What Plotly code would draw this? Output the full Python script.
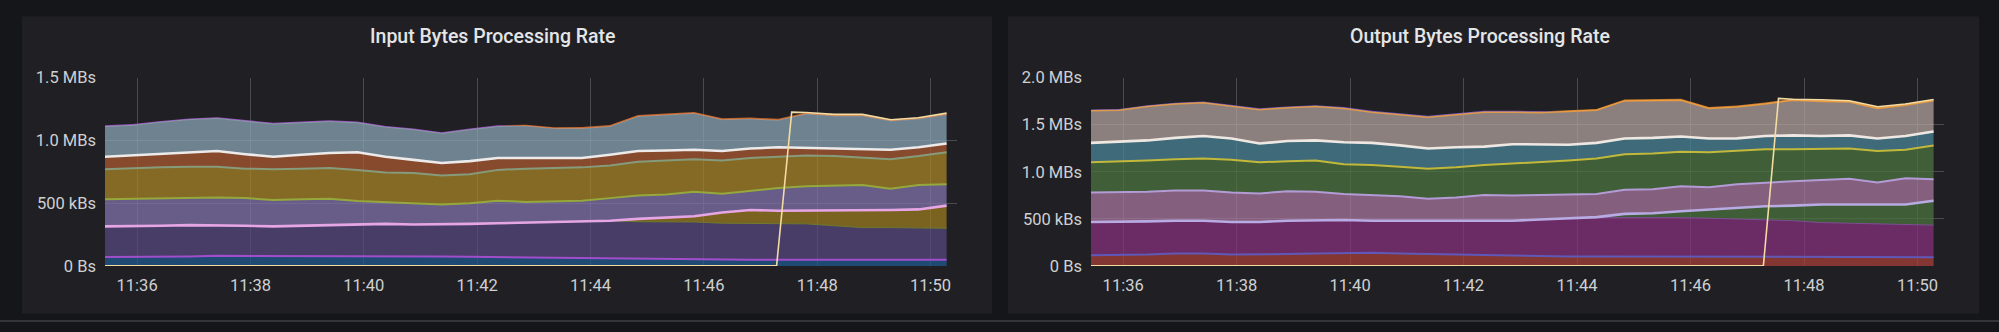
import pandas as pd
import plotly.graph_objects as go
from plotly.subplots import make_subplots

# ---------------------------------------------------------------------------
# Sample times (one scrape roughly every 30 s) and axis window
# ---------------------------------------------------------------------------
times = pd.date_range("2024-05-14 11:35:26", "2024-05-14 11:50:17", periods=31)
x_range = ["2024-05-14 11:35:26", "2024-05-14 11:50:28"]

# ---------------------------------------------------------------------------
# Input bytes processing rate (MB/s per stacked series, bottom to top)
# ---------------------------------------------------------------------------
in_names = ["src-0", "map-1", "map-4", "map-2", "map-3", "sink-0", "sink-1", "agg-0", "agg-1"]
in_src0 = [.07, .07, .07, .075, .08, .08, .08, .08, .08, .08, .08, .078, .075, .072, .07, .068,
           .065, .06, .058, .055, .052, .05, .05, .05, .05, .05, .05, .05, .05, .05, .05]
in_map1 = [.245, .245, .25, .25, .245, .24, .235, .24, .245, .25, .255, .252, .255, .263, .27, .277,
           .285, .295, .302, .297, .298, .30, .29, .29, .29, .285, .27, .255, .255, .255, .25]
in_map4 = [0, 0, 0, 0, 0, 0, 0, 0, 0, 0, 0, 0, 0, 0, 0, 0,
           0, 0, 0, .023, .035, .045, .085, .105, .10, .105, .125, .14, .14, .145, .18]
in_map2 = [.217, .22, .22, .22, .22, .22, .21, .212, .21, .188, .173, .17, .16, .165, .18, .165,
           .165, .165, .18, .185, .183, .195, .15, .155, .18, .195, .195, .20, .17, .195, .17]
in_map3 = [.238, .245, .245, .245, .245, .235, .245, .243, .245, .247, .237, .24, .23, .23, .245, .265,
           .265, .265, .26, .27, .272, .26, .265, .26, .25, .245, .235, .215, .235, .23, .255]
in_sink0 = [.10, .10, .11, .115, .125, .115, .10, .11, .12, .14, .125, .105, .10, .105, .095, .085,
            .08, .075, .085, .085, .08, .075, .075, .075, .075, .06, .06, .075, .075, .07, .07]
in_sink1 = [.24, .24, .25, .26, .26, .26, .26, .255, .25, .235, .235, .24, .235, .25, .25, .255,
            .235, .235, .225, .275, .28, .29, .25, .235, .215, .27, .26, .26, .23, .225, .23]
in_agg0 = [.01, .01, .01, .01, .01, .01, .01, .01, .01, .01, .01, .01, .01, .01, .01, 0,
           0, 0, 0, 0, 0, 0, 0, 0, 0, 0, 0, 0, 0, 0, 0]
in_agg1 = [0, 0, 0, 0, 0, 0, 0, 0, 0, 0, 0, 0, 0, 0, 0, .01,
           .01, .012, .012, .012, .012, .012, .012, .012, .012, .012, .012, .012, .012, .012, .012]
in_series = [in_src0, in_map1, in_map4, in_map2, in_map3, in_sink0, in_sink1, in_agg0, in_agg1]

# Restarted job: reports nothing, then its first sample
in_restart_times = ["2024-05-14 11:35:26", "2024-05-14 11:47:17", "2024-05-14 11:47:33",
                    "2024-05-14 11:47:48", "2024-05-14 11:48:18", "2024-05-14 11:48:48",
                    "2024-05-14 11:49:18", "2024-05-14 11:49:47", "2024-05-14 11:50:17"]
in_restart = [0, 0, 1.225, 1.222, 1.207, 1.207, 1.165, 1.18, 1.217]

# ---------------------------------------------------------------------------
# Output bytes processing rate (MB/s per stacked series, bottom to top)
# ---------------------------------------------------------------------------
out_names = ["src-0", "map-1", "map-4", "map-2", "map-3", "sink-0", "sink-1", "agg-0", "agg-1"]
out_src0 = [.113, .113, .12, .133, .133, .12, .12, .127, .133, .14, .14, .133, .127, .12, .12, .113,
            .107, .10, .10, .10, .093, .093, .093, .093, .093, .093, .093, .093, .093, .093, .093]
out_map1 = [.354, .354, .353, .347, .347, .347, .347, .353, .354, .347, .34, .347, .353, .36, .36, .367,
            .386, .407, .413, .415, .42, .42, .414, .407, .40, .387, .367, .36, .354, .347, .34]
out_map4 = [0, 0, 0, 0, 0, 0, 0, 0, 0, 0, 0, 0, 0, 0, 0, 0,
            0, 0, .005, .038, .047, .067, .093, .12, .14, .16, .193, .20, .206, .213, .26]
out_map2 = [.313, .313, .314, .32, .32, .313, .303, .313, .30, .278, .273, .26, .233, .247, .273, .267,
            .26, .253, .247, .257, .255, .265, .235, .247, .254, .26, .26, .274, .234, .277, .227]
out_map3 = [.32, .327, .333, .333, .34, .347, .33, .32, .333, .315, .32, .313, .32, .32, .32, .34,
            .347, .36, .375, .377, .378, .368, .372, .353, .353, .34, .334, .32, .333, .303, .36]
out_sink0 = [.207, .213, .213, .227, .24, .226, .20, .214, .213, .233, .234, .227, .214, .213, .194, .206,
             .187, .167, .167, .166, .167, .162, .146, .135, .14, .147, .133, .14, .133, .147, .147]
out_sink1 = [.34, .333, .36, .36, .353, .347, .36, .353, .36, .36, .326, .327, .333, .347, .366, .34,
             .34, .353, .346, .40, .393, .385, .319, .332, .34, .373, .367, .353, .32, .327, .326]
out_agg0 = [.014, .014, .014, .014, .014, .014, .014, .014, .014, .014, .014, .014, .014, .014, .014, .014,
            .014, 0, 0, 0, 0, 0, 0, 0, 0, 0, 0, 0, 0, 0, 0]
out_agg1 = [0, 0, 0, 0, 0, 0, 0, 0, 0, 0, 0, 0, 0, 0, 0, 0,
            0, .014, .014, .016, .016, .016, .016, .016, .016, .016, .016, .016, .016, .016, .016]
out_series = [out_src0, out_map1, out_map4, out_map2, out_map3, out_sink0, out_sink1, out_agg0, out_agg1]

out_restart_times = in_restart_times
out_restart = [0, 0, 1.78, 1.77, 1.765, 1.755, 1.69, 1.72, 1.768]

# ---------------------------------------------------------------------------
# Axis ticks
# ---------------------------------------------------------------------------
in_tickvals = [0, 0.5, 1.0, 1.5]
in_ticktext = ["0 Bs", "500 kBs", "1.0 MBs", "1.5 MBs"]
out_tickvals = [0, 0.5, 1.0, 1.5, 2.0]
out_ticktext = ["0 Bs", "500 kBs", "1.0 MBs", "1.5 MBs", "2.0 MBs"]

# ---------------------------------------------------------------------------
# Styling
# ---------------------------------------------------------------------------
PAGE = "#151619"
PANEL = "#202024"
GRID = "#4a4b50"
TEXT = "#cfd0d2"
TITLE = "#e4e5e7"
RESTART = "#f3dba2"
FILL_ALPHA = 0.72

in_fill = ["#1e4a74", "#483d66", "#7a6321", "#685c87", "#856a25", "#864a2c", "#6e828f", "#9c50c8", "#c8642c"]
in_line = ["#a24dcc", "#6e7a30", "#e6a6e6", "#94a83c", "#869b7b", "#eceaea", "#8a9ba7", "#9c50c8", "#d06a2e"]
in_width = [2, 1, 2.6, 2, 2, 2.6, 1, 0, 0]

out_fill = ["#833632", "#6b2c66", "#3f5d36", "#84607e", "#405e38", "#3e6a7a", "#8b807e", "#7456c8", "#c87a30"]
out_line = ["#6058b8", "#7d4f93", "#b8aae2", "#b39bd6", "#c2b83a", "#efe8e2", "#dd9a4a", "#7456c8", "#d08a34"]
out_width = [2, 1, 2.6, 2, 2, 2.6, 1.5, 0, 0]


def veil(hex_color, alpha=FILL_ALPHA, under=PANEL):
    """Translucent fill that composites to hex_color over the panel colour."""
    t = [int(hex_color[i:i + 2], 16) for i in (1, 3, 5)]
    u = [int(under[i:i + 2], 16) for i in (1, 3, 5)]
    c = [max(0, min(255, round((tc - (1 - alpha) * uc) / alpha))) for tc, uc in zip(t, u)]
    return f"rgba({c[0]},{c[1]},{c[2]},{alpha})"


fig = make_subplots(rows=1, cols=2, horizontal_spacing=0.0)


def add_stack(col, group, names, series, fills, lines, widths):
    for name, vals, fc, lc, w in zip(names, series, fills, lines, widths):
        fig.add_trace(
            go.Scatter(
                x=times, y=vals, name=name, stackgroup=group, mode="lines",
                line=dict(color=lc, width=w, shape="linear"),
                fillcolor=veil(fc), hoverinfo="skip",
            ),
            row=1, col=col,
        )


add_stack(1, "in", in_names, in_series, in_fill, in_line, in_width)
fig.add_trace(go.Scatter(x=pd.to_datetime(in_restart_times), y=in_restart, mode="lines",
                         line=dict(color=RESTART, width=1.6), hoverinfo="skip"), row=1, col=1)

add_stack(2, "out", out_names, out_series, out_fill, out_line, out_width)
fig.add_trace(go.Scatter(x=pd.to_datetime(out_restart_times), y=out_restart, mode="lines",
                         line=dict(color=RESTART, width=1.6), hoverinfo="skip"), row=1, col=2)

W, H = 1999, 332


def px(x):
    return x / W


def py(y):
    return 1 - y / H


axis_font = dict(family="Roboto, Inter, sans-serif", size=16.5, color=TEXT)
common_x = dict(type="date", range=x_range, dtick=120000, tickformat="%H:%M",
                showgrid=True, gridcolor=GRID, gridwidth=1, zeroline=False,
                showline=False, ticks="", tickfont=axis_font, ticklabelstandoff=8)
common_y = dict(showgrid=True, gridcolor=GRID, gridwidth=1, zeroline=False,
                showline=False, ticks="", tickfont=axis_font, ticklabelstandoff=8)

fig.update_xaxes(domain=[px(105), px(957)], row=1, col=1, **common_x)
fig.update_xaxes(domain=[px(1091), px(1944)], row=1, col=2, **common_x)
fig.update_yaxes(domain=[py(272.5), py(72.8)], range=[0, 1.5], tickvals=in_tickvals,
                 ticktext=in_ticktext, row=1, col=1, **common_y)
fig.update_yaxes(domain=[py(272.5), py(72.8)], range=[0, 2.0], tickvals=out_tickvals,
                 ticktext=out_ticktext, row=1, col=2, **common_y)

# Panel cards
for x0, x1 in [(22, 992), (1008, 1979)]:
    fig.add_shape(type="rect", xref="paper", yref="paper", x0=px(x0), x1=px(x1),
                  y0=py(323), y1=py(8), fillcolor=PANEL, line=dict(width=0), layer="below")

# Thin lighter strip along the bottom edge of the page
fig.add_shape(type="rect", xref="paper", yref="paper", x0=0, x1=1, y0=0, y1=py(330),
              fillcolor="#34353a", line=dict(width=0), layer="below")

title_font = dict(family="Roboto, Inter, sans-serif", size=19.5, color=TITLE, weight=500)
fig.add_annotation(text="Input Bytes Processing Rate", xref="paper", yref="paper",
                   x=px(493), y=py(29), xanchor="center", yanchor="middle",
                   showarrow=False, font=title_font)
fig.add_annotation(text="Output Bytes Processing Rate", xref="paper", yref="paper",
                   x=px(1480), y=py(29), xanchor="center", yanchor="middle",
                   showarrow=False, font=title_font)

fig.update_layout(
    width=W, height=H, margin=dict(l=0, r=0, t=0, b=0, pad=0),
    paper_bgcolor=PAGE, plot_bgcolor=PANEL, showlegend=False,
    font=dict(family="Roboto, Inter, sans-serif", color=TEXT),
)

# Page chrome: no body margin, dark page behind the figure
page_css = (
    "document.documentElement.style.margin='0';"
    "document.body.style.margin='0';"
    "document.body.style.background='" + PAGE + "';"
    "document.body.style.overflow='hidden';"
)

fig.write_html("out.html", config={"displayModeBar": False, "responsive": False},
               post_script=page_css)
